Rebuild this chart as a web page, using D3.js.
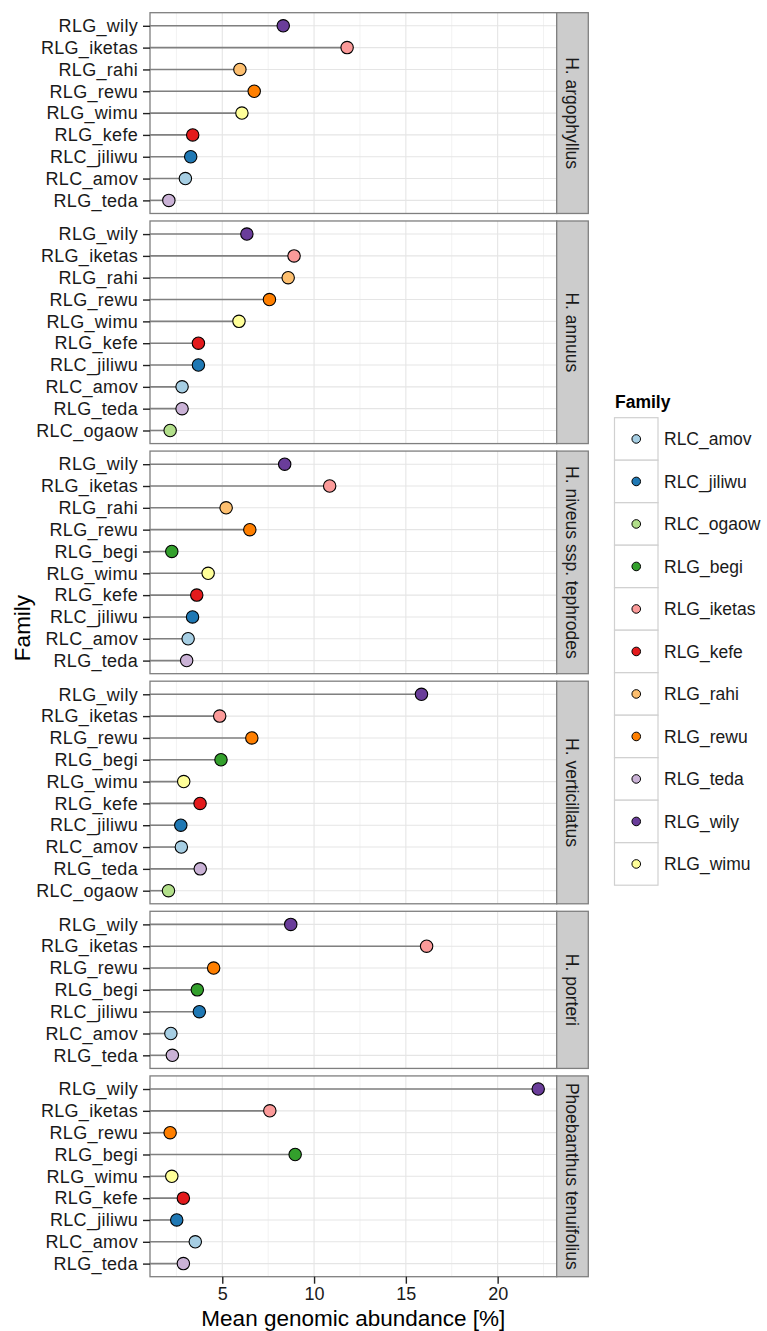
<!DOCTYPE html>
<html><head><meta charset="utf-8">
<script src="https://cdn.jsdelivr.net/npm/d3@7"></script>
<style>body{margin:0;background:#fff}svg{display:block;font-family:"Liberation Sans",Arial,Helvetica,sans-serif}</style>
</head><body><svg id="c" width="767" height="1331"></svg>
<script>
// ---- data ----
const species = ["H. argophyllus","H. annuus","H. niveus ssp. tephrodes","H. verticillatus","H. porteri","Phoebanthus tenuifolius"];

const famArgophyllus = ["RLG_wily","RLG_iketas","RLG_rahi","RLG_rewu","RLG_wimu","RLG_kefe","RLC_jiliwu","RLC_amov","RLG_teda"];
const valArgophyllus = [8.32,11.80,5.96,6.74,6.07,3.39,3.28,2.99,2.09];

const famAnnuus = ["RLG_wily","RLG_iketas","RLG_rahi","RLG_rewu","RLG_wimu","RLG_kefe","RLC_jiliwu","RLC_amov","RLG_teda","RLC_ogaow"];
const valAnnuus = [6.34,8.91,8.59,7.57,5.91,3.70,3.70,2.81,2.81,2.16];

const famNiveus = ["RLG_wily","RLG_iketas","RLG_rahi","RLG_rewu","RLG_begi","RLG_wimu","RLG_kefe","RLC_jiliwu","RLC_amov","RLG_teda"];
const valNiveus = [8.40,10.85,5.21,6.50,2.25,4.23,3.61,3.38,3.14,3.06];

const famVerticillatus = ["RLG_wily","RLG_iketas","RLG_rewu","RLG_begi","RLG_wimu","RLG_kefe","RLC_jiliwu","RLC_amov","RLG_teda","RLC_ogaow"];
const valVerticillatus = [15.85,4.86,6.61,4.93,2.90,3.79,2.74,2.77,3.80,2.07];

const famPorteri = ["RLG_wily","RLG_iketas","RLG_rewu","RLG_begi","RLC_jiliwu","RLC_amov","RLG_teda"];
const valPorteri = [8.73,16.13,4.53,3.64,3.75,2.20,2.28];

const famPhoebanthus = ["RLG_wily","RLG_iketas","RLG_rewu","RLG_begi","RLG_wimu","RLG_kefe","RLC_jiliwu","RLC_amov","RLG_teda"];
const valPhoebanthus = [22.21,7.59,2.16,8.97,2.25,2.88,2.52,3.53,2.88];

const legendFamilies = ["RLC_amov","RLC_jiliwu","RLC_ogaow","RLG_begi","RLG_iketas","RLG_kefe","RLG_rahi","RLG_rewu","RLG_teda","RLG_wily","RLG_wimu"];
const familyColors = ["#A6CEE3","#1F78B4","#B2DF8A","#33A02C","#FB9A99","#E31A1C","#FDBF6F","#FF7F00","#CAB2D6","#6A3D9A","#FFFF99"];
const xTicks = [5,10,15,20];

const panelFams = [famArgophyllus,famAnnuus,famNiveus,famVerticillatus,famPorteri,famPhoebanthus];
const panelVals = [valArgophyllus,valAnnuus,valNiveus,valVerticillatus,valPorteri,valPhoebanthus];

// ---- layout ----
const svg = d3.select("#c");
const L = 150, R = 556.7, TOP = 12.7, BOT = 1276.7, GAP = 7.5;
const stripW = 31.6;
const color = d3.scaleOrdinal().domain(legendFamilies).range(familyColors);

const allVals = panelVals.flat();
const vmin = d3.min(allVals), vmax = d3.max(allVals), vr = vmax - vmin;
const x = d3.scaleLinear().domain([vmin - 0.05*vr, vmax + 0.05*vr]).range([L, R]);
const minorTicks = [2.5,7.5,12.5,17.5,22.5];

const totalUnits = d3.sum(panelFams, f => f.length + 0.2);
const unit = (BOT - TOP - GAP*(species.length-1)) / totalUnits;

let y0 = TOP;
species.forEach((sp, i) => {
  const fams = panelFams[i], vals = panelVals[i];
  const h = unit * (fams.length + 0.2);
  const y = d3.scalePoint().domain(fams).range([y0, y0 + h]).padding(0.6);
  const g = svg.append("g");
  g.append("rect").attr("x", L).attr("y", y0).attr("width", R-L).attr("height", h).attr("fill", "#fff");
  g.selectAll(".mn").data(minorTicks.filter(t => x(t) > L && x(t) < R)).enter().append("line")
    .attr("x1", d => x(d)).attr("x2", d => x(d)).attr("y1", y0).attr("y2", y0+h)
    .attr("stroke", "#f2f2f2").attr("stroke-width", 1);
  g.selectAll(".mj").data(xTicks).enter().append("line")
    .attr("x1", d => x(d)).attr("x2", d => x(d)).attr("y1", y0).attr("y2", y0+h)
    .attr("stroke", "#e5e5e5").attr("stroke-width", 1.1);
  g.selectAll(".hy").data(fams).enter().append("line")
    .attr("x1", L).attr("x2", R).attr("y1", d => y(d)).attr("y2", d => y(d))
    .attr("stroke", "#e5e5e5").attr("stroke-width", 1.1);
  const data = fams.map((f, k) => ({f, v: vals[k]}));
  g.selectAll(".seg").data(data).enter().append("line")
    .attr("x1", L).attr("x2", d => x(d.v)).attr("y1", d => y(d.f)).attr("y2", d => y(d.f))
    .attr("stroke", "#808080").attr("stroke-width", 1.6);
  g.selectAll(".pt").data(data).enter().append("circle")
    .attr("cx", d => x(d.v)).attr("cy", d => y(d.f)).attr("r", 6.2)
    .attr("fill", d => color(d.f)).attr("stroke", "#000").attr("stroke-width", 1.1);
  g.append("rect").attr("x", L).attr("y", y0).attr("width", R-L).attr("height", h)
    .attr("fill", "none").attr("stroke", "#7f7f7f").attr("stroke-width", 1.3);
  const ya = d3.axisLeft(y).tickSize(7).tickPadding(5);
  const ag = svg.append("g").attr("transform", `translate(${L},0)`).call(ya);
  ag.select(".domain").remove();
  ag.selectAll(".tick line").attr("stroke", "#222").attr("stroke-width", 1.4);
  ag.selectAll(".tick text").attr("font-size", 18).attr("letter-spacing", 0.3).attr("fill", "#1a1a1a")
    .attr("font-family", '"Liberation Sans",Arial,sans-serif');
  svg.append("rect").attr("x", R).attr("y", y0).attr("width", stripW).attr("height", h)
    .attr("fill", "#cccccc").attr("stroke", "#7f7f7f").attr("stroke-width", 1.3);
  svg.append("text").attr("transform", `translate(${R + stripW/2},${y0 + h/2}) rotate(90)`)
    .attr("text-anchor", "middle").attr("dy", "0.35em").attr("font-size", 17.5).attr("fill", "#1a1a1a")
    .text(sp);
  if (i === species.length - 1) {
    const xa = d3.axisBottom(x).tickValues(xTicks).tickSize(7).tickPadding(4).tickFormat(d3.format("d"));
    const xg = svg.append("g").attr("transform", `translate(0,${y0 + h})`).call(xa);
    xg.select(".domain").remove();
    xg.selectAll(".tick line").attr("stroke", "#222").attr("stroke-width", 1.4);
    xg.selectAll(".tick text").attr("font-size", 18).attr("fill", "#1a1a1a")
      .attr("font-family", '"Liberation Sans",Arial,sans-serif');
  }
  y0 += h + GAP;
});

svg.append("text").attr("x", (L+R)/2).attr("y", 1326).attr("text-anchor", "middle")
  .attr("font-size", 22.5).attr("fill", "#000").text("Mean genomic abundance [%]");
svg.append("text").attr("transform", `translate(30,628) rotate(-90)`).attr("text-anchor", "middle")
  .attr("font-size", 22.5).attr("fill", "#000").text("Family");

const lg = svg.append("g");
lg.append("text").attr("x", 615).attr("y", 408).attr("font-size", 17.5).attr("font-weight", "bold").text("Family");
const keyTop = 417.7, keyH = 42.5, keyX = 614.5, keyW = 43.5;
const items = lg.selectAll(".li").data(legendFamilies).enter().append("g")
  .attr("transform", (d, k) => `translate(0,${keyTop + k*keyH})`);
items.append("rect").attr("x", keyX).attr("y", 0).attr("width", keyW).attr("height", keyH)
  .attr("fill", "#fff").attr("stroke", "#d0d0d0").attr("stroke-width", 1.2);
items.append("circle").attr("cx", keyX + keyW/2).attr("cy", keyH/2).attr("r", 4.3)
  .attr("fill", d => color(d)).attr("stroke", "#000").attr("stroke-width", 1);
items.append("text").attr("x", 664).attr("y", keyH/2).attr("dy", "0.35em").attr("font-size", 17.5)
  .attr("fill", "#1a1a1a").text(d => d);
</script></body></html>
